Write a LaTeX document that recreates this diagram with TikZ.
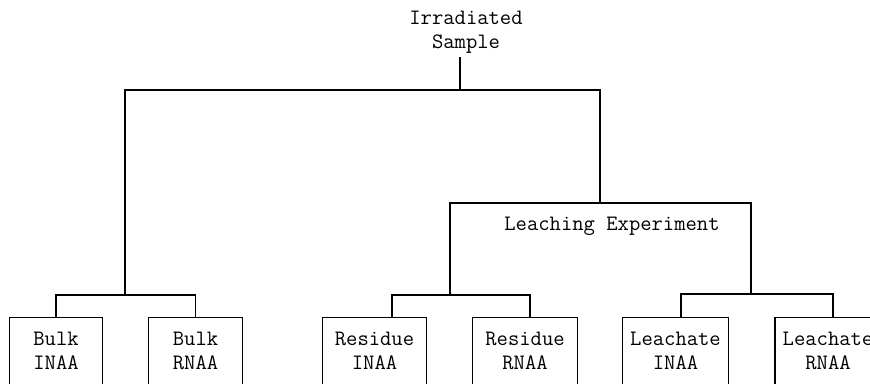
\documentclass[tikz,border=0pt]{standalone}
\usetikzlibrary{positioning,calc}

\begin{document}
\begin{tikzpicture}[x=1pt,y=-1pt,line width=1.2pt,align=center]
    \tikzset{
        txt/.style={
            font=\fontsize{22}{24}\selectfont\ttfamily,
            inner sep=0pt
        },
        leaf/.style={
            txt,
            minimum height=65pt
        }
    }
    \useasboundingbox (0,0) rectangle (870,383);

    % top
    \node[txt] (sample) at (466,32) {Irradiated\\Sample};
    \coordinate (s) at (460,57);
    \coordinate (topC) at (460,90);
    \coordinate (topL) at (125,90);
    \coordinate (topR) at (600,90);
    \draw (s) -- (topC);

    % leaching
    \node[txt] (leach) at (612,226) {Leaching Experiment};
    \coordinate (lchTop) at (600,203);
    \coordinate (lchL) at (450,203);
    \coordinate (lchR) at (751,203);

    % junctions
    \coordinate (bulkJ) at (125,295);
    \coordinate (resJ) at (450,295);
    \coordinate (leaJ) at (751,294);

    % boxes
    \node[leaf,minimum width=92pt] (bulkI) at (56,350.5) {Bulk\\INAA};
    \node[leaf,minimum width=93pt] (bulkR) at (195.5,350.5) {Bulk\\RNAA};
    \node[leaf,minimum width=103pt] (resI) at (374.5,350.5) {Residue\\INAA};
    \node[leaf,minimum width=104pt] (resR) at (525,350.5) {Residue\\RNAA};
    \node[leaf,minimum width=105pt] (leaI) at (675.5,350.5) {Leachate\\INAA};
    \node[leaf,minimum width=105pt] (leaR) at (828,350.5) {Leachate\\RNAA};

    \foreach \n in {bulkI,bulkR,resI,resR,leaI,leaR}
        \draw (\n.south west) -- (\n.north west) -- (\n.north east) -- (\n.south east);

    \draw (bulkJ) -- (topL) -- (topR) -- (lchTop);
    \draw (resJ) -- (lchL) -- (lchR) -- (leaJ);
    \draw (bulkI.north) |- (bulkJ) -| (bulkR.north);
    \draw ([xshift=17.5pt]resI.north) |- (resJ) -| ([xshift=5pt]resR.north);
    \draw ([xshift=5.5pt]leaI.north) |- (leaJ) -| ([xshift=5pt]leaR.north);
\end{tikzpicture}
\end{document}
